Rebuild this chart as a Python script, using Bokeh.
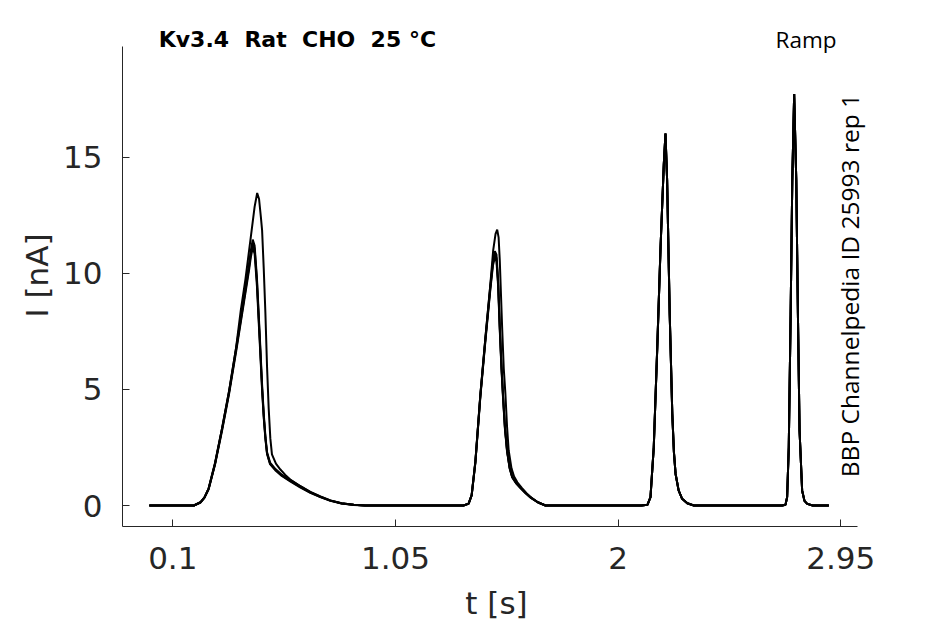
import math
from bokeh.plotting import figure
from bokeh.models import Range1d, FixedTicker, Label
from bokeh.embed import file_html
from bokeh.resources import INLINE

# ---------------- data ----------------
x_ticks = [0.1, 1.05, 2.0, 2.95]
x_tick_labels = ["0.1", "1.05", "2", "2.95"]
y_ticks = [0, 5, 10, 15]
y_tick_labels = ["0", "5", "10", "15"]

t_start = [0.0]
t_end = [2.899]

# first ramp peak, three overlapping sweeps
t_p1 = [0.190, 0.218, 0.235, 0.253, 0.280, 0.310, 0.340, 0.370, 0.400, 0.425, 0.433, 0.441,
        0.449, 0.459, 0.466, 0.473, 0.481, 0.488, 0.495, 0.502, 0.515, 0.537, 0.565, 0.601,
        0.645, 0.687, 0.730, 0.772, 0.820, 0.872, 0.920]
i_p1_a = [0, 0.14, 0.35, 0.74, 1.82, 3.32, 4.92, 6.78, 8.72, 10.38, 10.98, 11.45,
          11.20, 9.80, 8.35, 6.90, 5.20, 3.95, 3.00, 2.30, 1.85, 1.58, 1.33, 1.10,
          0.82, 0.58, 0.38, 0.22, 0.10, 0.03, 0]
i_p1_b = [0, 0.13, 0.34, 0.72, 1.78, 3.26, 4.86, 6.70, 8.62, 10.25, 10.85, 11.30,
          11.05, 9.65, 8.20, 6.75, 5.05, 3.85, 2.92, 2.25, 1.80, 1.55, 1.30, 1.06,
          0.79, 0.56, 0.36, 0.21, 0.09, 0.03, 0]
i_p1_c = [0, 0.13, 0.33, 0.70, 1.75, 3.22, 4.80, 6.62, 8.52, 10.12, 10.70, 11.10,
          10.85, 9.45, 8.00, 6.60, 4.95, 3.78, 2.88, 2.22, 1.78, 1.52, 1.27, 1.04,
          0.77, 0.55, 0.36, 0.20, 0.09, 0.02, 0]

# first ramp peak, the larger sweep
t_p1_big = [0.190, 0.218, 0.235, 0.253, 0.280, 0.310, 0.340, 0.370, 0.390, 0.410, 0.431,
            0.449, 0.460, 0.468, 0.476, 0.481, 0.488, 0.495, 0.502, 0.509, 0.516, 0.523,
            0.540, 0.559, 0.580, 0.601, 0.645, 0.687, 0.730, 0.772, 0.820, 0.872, 0.920]
i_p1_big = [0, 0.14, 0.35, 0.74, 1.82, 3.32, 4.92, 6.80, 8.40, 9.75, 11.42,
            12.86, 13.46, 13.20, 12.40, 11.85, 10.20, 8.30, 6.00, 4.20, 2.90, 2.20,
            1.80, 1.55, 1.32, 1.12, 0.83, 0.59, 0.39, 0.22, 0.10, 0.03, 0]

# second ramp peak, three overlapping sweeps
t_p2 = [1.340, 1.362, 1.375, 1.391, 1.412, 1.434, 1.455, 1.466, 1.474, 1.481, 1.488, 1.495,
        1.502, 1.509, 1.517, 1.526, 1.537, 1.548, 1.565, 1.583, 1.605, 1.626, 1.655, 1.690]
i_p2_a = [0, 0.08, 0.45, 1.90, 4.75, 7.25, 9.50, 10.55, 10.95, 10.80, 9.70, 7.75,
          6.10, 4.75, 3.40, 2.40, 1.65, 1.25, 0.98, 0.78, 0.55, 0.36, 0.16, 0]
i_p2_b = [0, 0.08, 0.44, 1.88, 4.70, 7.18, 9.40, 10.45, 10.82, 10.65, 9.55, 7.65,
          6.00, 4.68, 3.35, 2.36, 1.63, 1.23, 0.96, 0.76, 0.54, 0.35, 0.15, 0]
i_p2_c = [0, 0.07, 0.43, 1.85, 4.66, 7.12, 9.32, 10.35, 10.68, 10.52, 9.45, 7.55,
          5.92, 4.62, 3.30, 2.33, 1.60, 1.21, 0.95, 0.75, 0.53, 0.34, 0.15, 0]

# second ramp peak, the larger sweep
t_p2_big = [1.340, 1.362, 1.375, 1.391, 1.412, 1.434, 1.455, 1.467, 1.477, 1.484, 1.490, 1.495,
            1.505, 1.512, 1.519, 1.526, 1.533, 1.545, 1.556, 1.570, 1.590, 1.610, 1.630,
            1.660, 1.690]
i_p2_big = [0, 0.08, 0.45, 1.90, 4.75, 7.25, 9.55, 11.00, 11.70, 11.88, 11.55, 10.56,
            7.69, 5.90, 4.81, 3.40, 2.37, 1.60, 1.25, 1.00, 0.75, 0.52, 0.33,
            0.12, 0]

# third and fourth ramp peaks (all sweeps overlap)
t_p3 = [2.100, 2.125, 2.138, 2.152, 2.167, 2.181, 2.195, 2.202, 2.209, 2.220, 2.231, 2.238,
        2.245, 2.258, 2.273, 2.295, 2.323]
i_p3 = [0, 0.03, 0.36, 2.51, 6.82, 11.13, 14.73, 16.02, 14.00, 8.26, 3.95, 2.30,
        1.37, 0.65, 0.29, 0.10, 0]
t_p4 = [2.700, 2.714, 2.721, 2.728, 2.736, 2.743, 2.751, 2.760, 2.767, 2.774, 2.785, 2.795,
        2.807, 2.830]
i_p4 = [0, 0.03, 0.36, 2.51, 8.26, 14.00, 17.72, 14.00, 8.26, 3.23, 0.65, 0.20,
        0.07, 0]

title_text = "Kv3.4 \u00a0Rat \u00a0CHO \u00a025 °C"
protocol_text = "Ramp"
source_text = "BBP Channelpedia ID 25993 rep 1"
x_label = "t [s]"
y_label = "I [nA]"

# ---------------- sweeps assembled from the segments ----------------
sweeps = [
    (t_p1, i_p1_a, t_p2, i_p2_a),
    (t_p1, i_p1_b, t_p2, i_p2_b),
    (t_p1, i_p1_c, t_p2, i_p2_c),
    (t_p1_big, i_p1_big, t_p2_big, i_p2_big),
]

xs, ys = [], []
for ta, ia, tb, ib in sweeps:
    xs.append(t_start + ta + tb + t_p3 + t_p4 + t_end)
    ys.append([0] + ia + ib + i_p3 + i_p4 + [0])

# ---------------- figure ----------------
p = figure(
    frame_width=748, frame_height=502,
    min_border_left=122, min_border_right=60, min_border_top=24, min_border_bottom=90,
    x_range=Range1d(-0.1146, 3.0767), y_range=Range1d(-0.904, 20.715),
    output_backend="svg", toolbar_location=None,
)
p.outline_line_color = None
p.grid.visible = False
p.background_fill_color = "white"
p.border_fill_color = "white"

p.multi_line(xs, ys, line_color="black", line_width=2)

ink = "#262626"
p.xaxis.ticker = FixedTicker(ticks=x_ticks)
p.yaxis.ticker = FixedTicker(ticks=y_ticks)
p.xaxis.major_label_overrides = {t: l for t, l in zip(x_ticks, x_tick_labels)}
p.yaxis.major_label_overrides = {t: l for t, l in zip(y_ticks, y_tick_labels)}
p.xaxis.axis_label = x_label
p.yaxis.axis_label = y_label
p.xaxis.bounds = (-0.1146, 3.020)
p.yaxis.bounds = (-0.904, 19.75)
for ax in (p.xaxis[0], p.yaxis[0]):
    ax.major_tick_in = 7
    ax.major_tick_out = 0
    ax.minor_tick_line_color = None
    ax.axis_line_color = ink
    ax.major_tick_line_color = ink
    ax.major_label_text_color = ink
    ax.major_label_text_font = "DejaVu Sans"
    ax.major_label_text_font_size = "31px"
    ax.axis_label_text_font = "DejaVu Sans"
    ax.axis_label_text_font_size = "31px"
    ax.axis_label_text_font_style = "normal"
    ax.axis_label_text_color = ink
p.xaxis.major_label_standoff = 20
p.yaxis.major_label_standoff = 20
p.xaxis.axis_label_standoff = 13
p.yaxis.axis_label_standoff = 5
p.yaxis.major_label_orientation = "horizontal"

p.add_layout(Label(x=0.040, y=20.08, text=title_text, text_font="DejaVu Sans",
                   text_font_style="bold", text_font_size="22px", text_color="black",
                   text_baseline="alphabetic", text_align="left"))
p.add_layout(Label(x=2.932, y=20.08, text=protocol_text, text_font="Open Sans",
                   text_font_size="22.5px", text_color="black",
                   text_baseline="alphabetic", text_align="right"))
p.add_layout(Label(x=2.989, y=9.47, text=source_text, text_font="Open Sans",
                   text_font_size="24.5px", text_color="black", angle=math.pi / 2,
                   text_baseline="middle", text_align="center"))

open("out.html", "w").write(file_html(p, INLINE))
